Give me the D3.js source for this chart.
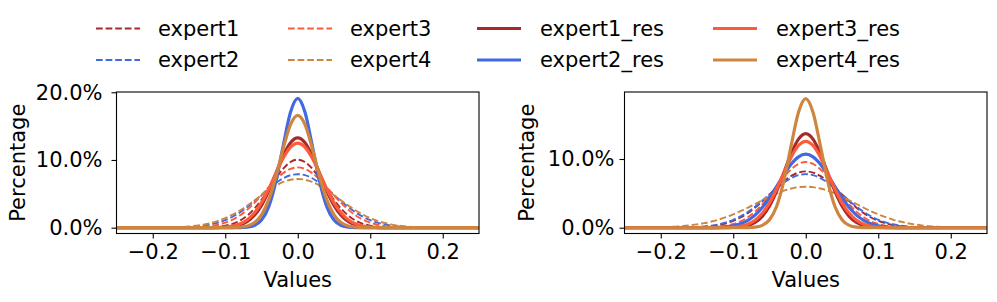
<!DOCTYPE html>
<html>
<head>
<meta charset="utf-8">
<script src="https://cdn.jsdelivr.net/npm/d3@7"></script>
<style>
  body { margin: 0; background: #fff; }
  text { font-family: "DejaVu Sans", sans-serif; fill: #000; }
</style>
</head>
<body>
<svg width="997" height="302"></svg>
<script>
// bins (x) shared by every curve: the edges plus -0.20 .. 0.20 in 0.01 steps
const xValues = [-0.25,
  -0.20, -0.19, -0.18, -0.17, -0.16, -0.15, -0.14, -0.13, -0.12, -0.11,
  -0.10, -0.09, -0.08, -0.07, -0.06, -0.05, -0.04, -0.03, -0.02, -0.01,
  0.00,
  0.01, 0.02, 0.03, 0.04, 0.05, 0.06, 0.07, 0.08, 0.09, 0.10,
  0.11, 0.12, 0.13, 0.14, 0.15, 0.16, 0.17, 0.18, 0.19, 0.20,
  0.25];

const seriesNames = ['expert1', 'expert2', 'expert3', 'expert4',
  'expert1_res', 'expert2_res', 'expert3_res', 'expert4_res'];
const seriesColors = ['#a52a2a', '#4169e1', '#ff5a3a', '#cd853f',
  '#a52a2a', '#4169e1', '#ff5a3a', '#cd853f'];

const xTicks = [-0.2, -0.1, 0.0, 0.1, 0.2];
const yTicksLeft = [0, 0.1, 0.2];
const yTicksRight = [0, 0.1];

// left panel
const left_expert1 = [0, 0,0,0,0,0,0, 0.0001,0.0002,0.0006,0.0014,0.0029,0.0056,0.0103,0.0176,0.0279,0.0413,0.0569,0.0730,0.0872,0.0970,
  0.1005, 0.0970,0.0872,0.0730,0.0569,0.0413,0.0279,0.0176,0.0103,0.0056,0.0029,0.0014,0.0006,0.0002,0.0001, 0,0,0,0,0,0, 0];
const left_expert2 = [0, 0,0,0.0001,0.0003,0.0005,0.0010,0.0017,0.0029,0.0047,0.0074,0.0111,0.0161,0.0225,0.0302,0.0390,0.0484,0.0577,0.0662,0.0730,0.0775,
  0.0790, 0.0775,0.0730,0.0662,0.0577,0.0484,0.0390,0.0302,0.0225,0.0161,0.0111,0.0074,0.0047,0.0029,0.0017,0.0010,0.0005,0.0003,0.0001,0,0, 0];
const left_expert3 = [0, 0,0,0, 0.0001,0.0002,0.0003,0.0007,0.0013,0.0025,0.0044,0.0074,0.0118,0.0181,0.0263,0.0363,0.0477,0.0597,0.0711,0.0806,0.0868,
  0.0890, 0.0868,0.0806,0.0711,0.0597,0.0477,0.0363,0.0263,0.0181,0.0118,0.0074,0.0044,0.0025,0.0013,0.0007,0.0003,0.0002,0.0001, 0,0,0, 0];
const left_expert4 = [0, 0.0001,0.0002,0.0004,0.0006,0.0011,0.0018,0.0030,0.0046,0.0069,0.0100,0.0141,0.0192,0.0254,0.0324,0.0401,0.0479,0.0555,0.0622,0.0675,0.0708,
  0.0720, 0.0708,0.0675,0.0622,0.0555,0.0479,0.0401,0.0324,0.0254,0.0192,0.0141,0.0100,0.0069,0.0046,0.0030,0.0018,0.0011,0.0006,0.0004,0.0002,0.0001, 0];
const left_expert1_res = [0, 0,0,0,0,0,0,0,0,0, 0.0002,0.0005,0.0015,0.0038,0.0087,0.0179,0.0330,0.0545,0.0804,0.1061,0.1253,
  0.1325, 0.1253,0.1061,0.0804,0.0545,0.0330,0.0179,0.0087,0.0038,0.0015,0.0005,0.0002, 0,0,0,0,0,0,0,0,0, 0];
const left_expert2_res = [0, 0,0,0,0,0,0,0,0,0,0,0,0, 0.0001,0.0007,0.0032,0.0112,0.0311,0.0688,0.1214,0.1705,
  0.1910, 0.1705,0.1214,0.0688,0.0311,0.0112,0.0032,0.0007,0.0001, 0,0,0,0,0,0,0,0,0,0,0,0,0, 0];
const left_expert3_res = [0, 0,0,0,0,0,0,0,0, 0.0001,0.0003,0.0009,0.0024,0.0055,0.0114,0.0216,0.0369,0.0572,0.0806,0.1028,0.1190,
  0.1250, 0.1190,0.1028,0.0806,0.0572,0.0369,0.0216,0.0114,0.0055,0.0024,0.0009,0.0003,0.0001, 0,0,0,0,0,0,0,0, 0];
const left_expert4_res = [0, 0,0,0,0,0,0,0,0,0,0,0, 0.0001,0.0006,0.0024,0.0073,0.0190,0.0414,0.0760,0.1173,0.1522,
  0.1660, 0.1522,0.1173,0.0760,0.0414,0.0190,0.0073,0.0024,0.0006,0.0001, 0,0,0,0,0,0,0,0,0,0,0, 0];

// right panel
const right_expert1 = [0, 0,0, 0.0001,0.0002,0.0004,0.0007,0.0013,0.0023,0.0039,0.0064,0.0100,0.0149,0.0213,0.0292,0.0384,0.0484,0.0585,0.0678,0.0754,0.0803,
  0.0820, 0.0803,0.0754,0.0678,0.0585,0.0484,0.0384,0.0292,0.0213,0.0149,0.0100,0.0064,0.0039,0.0023,0.0013,0.0007,0.0004,0.0002,0.0001, 0,0, 0];
const right_expert2 = [0, 0, 0.0001,0.0002,0.0003,0.0006,0.0011,0.0019,0.0031,0.0050,0.0078,0.0116,0.0166,0.0230,0.0306,0.0393,0.0484,0.0575,0.0657,0.0723,0.0765,
  0.0780, 0.0765,0.0723,0.0657,0.0575,0.0484,0.0393,0.0306,0.0230,0.0166,0.0116,0.0078,0.0050,0.0031,0.0019,0.0011,0.0006,0.0003,0.0002,0.0001, 0, 0];
const right_expert3 = [0, 0,0,0,0,0, 0.0001,0.0003,0.0007,0.0015,0.0029,0.0054,0.0093,0.0152,0.0234,0.0340,0.0466,0.0604,0.0738,0.0852,0.0929,
  0.0956, 0.0929,0.0852,0.0738,0.0604,0.0466,0.0340,0.0234,0.0152,0.0093,0.0054,0.0029,0.0015,0.0007,0.0003,0.0001, 0,0,0,0,0, 0];
const right_expert4 = [0.0001, 0.0007,0.0010,0.0016,0.0023,0.0034,0.0048,0.0066,0.0090,0.0119,0.0154,0.0195,0.0241,0.0291,0.0345,0.0399,0.0451,0.0499,0.0540,0.0571,0.0590,
  0.0597, 0.0590,0.0571,0.0540,0.0499,0.0451,0.0399,0.0345,0.0291,0.0241,0.0195,0.0154,0.0119,0.0090,0.0066,0.0048,0.0034,0.0023,0.0016,0.0010,0.0007, 0.0001];
const right_expert1_res = [0, 0,0,0,0,0,0,0,0,0, 0.0001,0.0004,0.0012,0.0032,0.0077,0.0166,0.0316,0.0535,0.0807,0.1082,0.1290,
  0.1368, 0.1290,0.1082,0.0807,0.0535,0.0316,0.0166,0.0077,0.0032,0.0012,0.0004,0.0001, 0,0,0,0,0,0,0,0,0, 0];
const right_expert2_res = [0, 0,0,0,0,0,0, 0.0001,0.0002,0.0006,0.0014,0.0029,0.0058,0.0107,0.0184,0.0293,0.0436,0.0602,0.0774,0.0927,0.1032,
  0.1070, 0.1032,0.0927,0.0774,0.0602,0.0436,0.0293,0.0184,0.0107,0.0058,0.0029,0.0014,0.0006,0.0002,0.0001, 0,0,0,0,0,0, 0];
const right_expert3_res = [0, 0,0,0,0,0,0,0,0, 0.0001,0.0003,0.0009,0.0022,0.0052,0.0110,0.0210,0.0362,0.0567,0.0803,0.1030,0.1196,
  0.1257, 0.1196,0.1030,0.0803,0.0567,0.0362,0.0210,0.0110,0.0052,0.0022,0.0009,0.0003,0.0001, 0,0,0,0,0,0,0,0, 0];
const right_expert4_res = [0, 0,0,0,0,0,0,0,0,0,0,0,0, 0.0002,0.0008,0.0034,0.0116,0.0317,0.0690,0.1203,0.1680,
  0.1878, 0.1680,0.1203,0.0690,0.0317,0.0116,0.0034,0.0008,0.0002, 0,0,0,0,0,0,0,0,0,0,0,0,0, 0];

const leftSeries = [left_expert1, left_expert2, left_expert3, left_expert4,
  left_expert1_res, left_expert2_res, left_expert3_res, left_expert4_res];
const rightSeries = [right_expert1, right_expert2, right_expert3, right_expert4,
  right_expert1_res, right_expert2_res, right_expert3_res, right_expert4_res];

const svg = d3.select("svg");
const fontSize = 21;

const isRes = name => name.endsWith('_res');
const dashFor = name => isRes(name) ? null : '6.7,2.9';
const widthFor = name => isRes(name) ? 3.2 : 1.9;

// one subplot
const renderPanel = (series, opts) => {
  const { x0, x1, y0, y1, yDomain, yTicks, yLabelPad, yTitleX, id } = opts;

  const xScale = d3.scaleLinear().domain([-0.25, 0.25]).range([x0, x1]);
  const yScale = d3.scaleLinear().domain(yDomain).range([y1, y0]);

  const g = svg.append('g');

  g.append('clipPath').attr('id', id)
    .append('rect')
    .attr('x', x0).attr('y', y0)
    .attr('width', x1 - x0).attr('height', y1 - y0);

  const lineGen = d3.line()
    .x(d => xScale(d[0]))
    .y(d => yScale(d[1]))
    .curve(d3.curveMonotoneX);

  const plot = g.append('g').attr('clip-path', `url(#${id})`);
  series.forEach((values, i) => {
    const name = seriesNames[i];
    plot.append('path')
      .attr('d', lineGen(xValues.map((x, j) => [x, values[j]])))
      .attr('fill', 'none')
      .attr('stroke', seriesColors[i])
      .attr('stroke-width', widthFor(name))
      .attr('stroke-dasharray', dashFor(name))
      .attr('stroke-linejoin', 'round');
  });

  // y-axis
  const yAxis = d3.axisLeft(yScale)
    .tickValues(yTicks)
    .tickFormat(d3.format('.1%'))
    .tickSize(5)
    .tickPadding(yLabelPad);
  const yAxisG = g.append('g').attr('transform', `translate(${x0},0)`).call(yAxis);
  yAxisG.select('.domain').remove();
  yAxisG.selectAll('line').attr('stroke', '#000').attr('stroke-width', 1.1);
  yAxisG.selectAll('text')
    .attr('font-size', fontSize)
    .attr('font-family', '"DejaVu Sans", sans-serif');

  // x-axis
  const xAxis = d3.axisBottom(xScale)
    .tickValues(xTicks)
    .tickFormat(d3.format('.1f'))
    .tickSize(5)
    .tickPadding(6);
  const xAxisG = g.append('g').attr('transform', `translate(0,${y1})`).call(xAxis);
  xAxisG.select('.domain').remove();
  xAxisG.selectAll('line').attr('stroke', '#000').attr('stroke-width', 1.1);
  xAxisG.selectAll('text')
    .attr('font-size', fontSize)
    .attr('font-family', '"DejaVu Sans", sans-serif');

  // frame
  g.append('rect')
    .attr('x', x0).attr('y', y0)
    .attr('width', x1 - x0).attr('height', y1 - y0)
    .attr('fill', 'none')
    .attr('stroke', '#000')
    .attr('stroke-width', 1.1);

  // axis titles
  g.append('text')
    .attr('x', (x0 + x1) / 2)
    .attr('y', 287)
    .attr('text-anchor', 'middle')
    .attr('font-size', fontSize)
    .text('Values');

  g.append('text')
    .attr('transform', `translate(${yTitleX},${(y0 + y1) / 2}) rotate(-90)`)
    .attr('text-anchor', 'middle')
    .attr('font-size', fontSize)
    .text('Percentage');
};

renderPanel(leftSeries, {
  id: 'clip-left', x0: 116.5, x1: 479, y0: 92, y1: 233.5,
  yDomain: [-0.0086, 0.2004], yTicks: yTicksLeft, yLabelPad: 9, yTitleX: 25
});
renderPanel(rightSeries, {
  id: 'clip-right', x0: 624.5, x1: 987, y0: 92, y1: 233.5,
  yDomain: [-0.0084, 0.1975], yTicks: yTicksRight, yLabelPad: 5, yTitleX: 534
});

// legend (matplotlib fills columns first: 2 rows x 4 columns)
const legendHandleX = [96, 288, 477, 713];
const legendTextX = [158, 350, 540, 776];
const legendRowY = [28.5, 60];
const legend = svg.append('g');
seriesNames.forEach((name, i) => {
  const col = Math.floor(i / 2);
  const row = i % 2;
  const y = legendRowY[row];
  legend.append('line')
    .attr('x1', legendHandleX[col]).attr('x2', legendHandleX[col] + 44)
    .attr('y1', y).attr('y2', y)
    .attr('stroke', seriesColors[i])
    .attr('stroke-width', widthFor(name))
    .attr('stroke-dasharray', dashFor(name));
  legend.append('text')
    .attr('x', legendTextX[col])
    .attr('y', y)
    .attr('dy', '0.35em')
    .attr('font-size', fontSize)
    .text(name);
});
</script>
</body>
</html>
